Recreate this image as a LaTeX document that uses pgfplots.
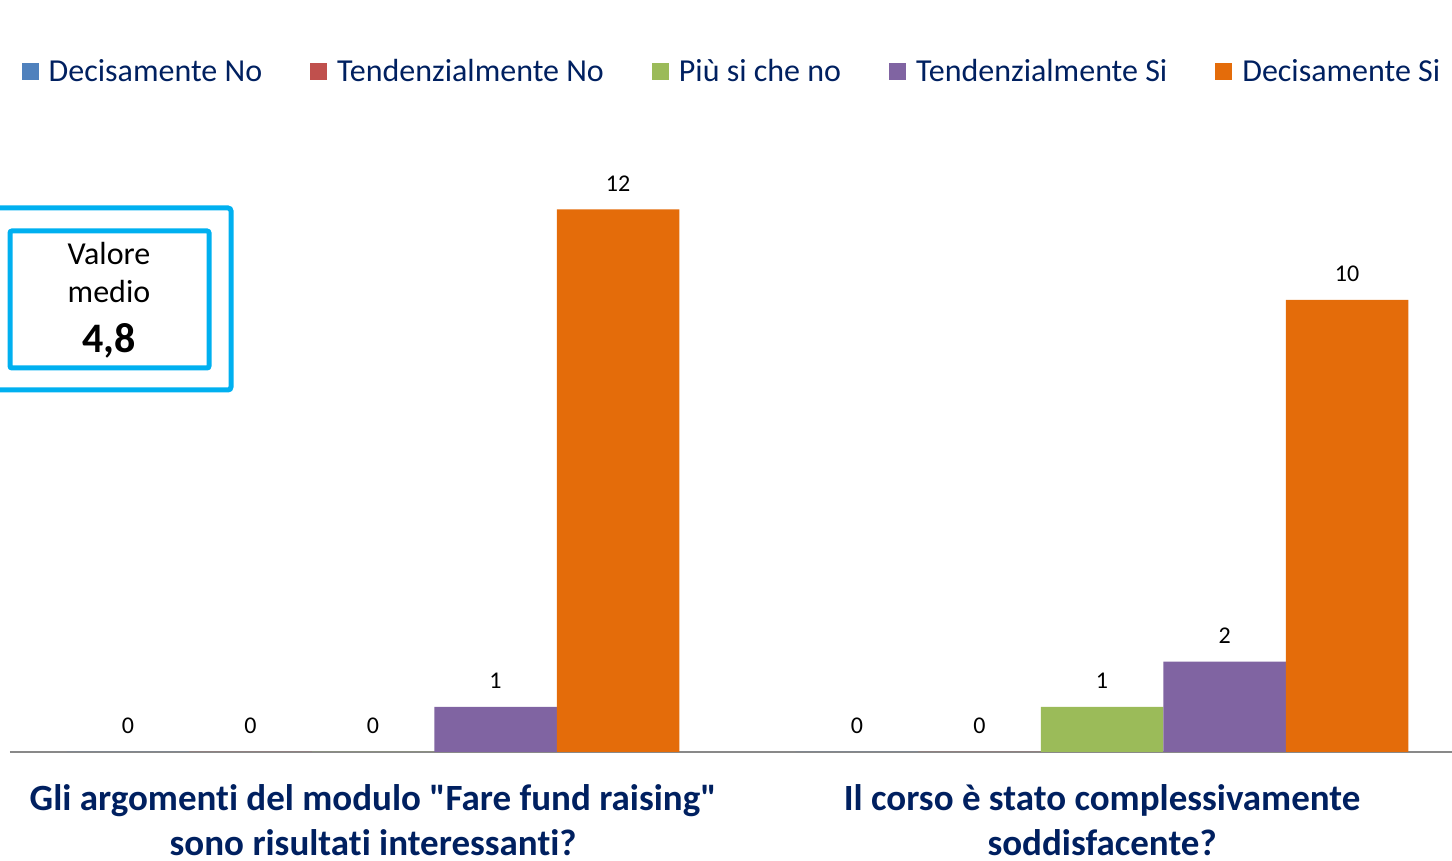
\documentclass[border=0pt]{standalone}
\usepackage{fontspec}
\setmainfont{Carlito}[Ligatures={NoCommon,TeXOff}]
\usepackage{pgfplots}
\pgfplotsset{compat=1.18}
\definecolor{cBlue}{HTML}{4F81BD}
\definecolor{cRed}{HTML}{C0504D}
\definecolor{cGreen}{HTML}{9BBB59}
\definecolor{cPurple}{HTML}{8064A2}
\definecolor{cOrange}{HTML}{E46C0A}
\definecolor{navy}{HTML}{002060}
\definecolor{axisgray}{HTML}{898989}
\definecolor{cyanbox}{HTML}{00B0F0}
\pgfplotsset{sq/.style={draw=none,
  legend image code/.code={\fill[##1] (0pt,-4.25pt) rectangle (8.5pt,4.25pt);}}}

\begin{document}
\begin{tikzpicture}
\useasboundingbox (0pt,0pt) rectangle (726pt,430.5pt);
\begin{axis}[
  at={(5pt,54.5pt)}, anchor=south west,
  scale only axis, width=721pt, height=326pt,
  ybar=0pt, bar width=61.25pt,
  xmin=-0.498, xmax=1.480, ymin=0, ymax=14.42,
  axis x line=bottom, axis y line=none,
  x axis line style={draw=axisgray, line width=1pt, -},
  xtick={0,1}, ytick=\empty, major tick length=0pt,
  xticklabels={{Gli argomenti del modulo "Fare fund raising"\\sono risultati interessanti?},
               {Il corso è stato complessivamente\\soddisfacente?}},
  xticklabel style={font=\bfseries\fontsize{18.5}{22.5}\selectfont, text=navy,
    align=center, anchor=north, inner sep=0pt, yshift=-16pt},
  /pgf/number format/assume math mode=true,
  nodes near coords,
  nodes near coords style={font=\fontsize{12}{14}\selectfont, text=black,
    inner sep=0pt, yshift=9pt},
  legend columns=5,
  legend style={at={(0.5,1)}, anchor=center, xshift=1pt, yshift=14pt,
    draw=none, fill=none, font=\fontsize{16}{19}\selectfont, text=navy,
    /tikz/every odd column/.append style={column sep=3pt},
    /tikz/every even column/.append style={column sep=22pt}},
  legend cell align=left,
]
\addplot[sq, fill=cBlue] coordinates {(0,0) (1,0)};
\addplot[sq, fill=cRed] coordinates {(0,0) (1,0)};
\addplot[sq, fill=cGreen] coordinates {(0,0) (1,1)};
\addplot[sq, fill=cPurple] coordinates {(0,1) (1,2)};
\addplot[sq, fill=cOrange] coordinates {(0,12) (1,10)};
\legend{Decisamente No, Tendenzialmente No, Più si che no, Tendenzialmente Si, Decisamente Si}
\end{axis}
% Valore medio box
\draw[cyanbox, line width=2.5pt, rounded corners=1.5pt] (-5pt,235.5pt) rectangle (115.5pt,326.5pt);
\draw[cyanbox, line width=2.5pt, rounded corners=1pt] (5pt,246.5pt) rectangle (104.5pt,315pt);
\node[anchor=base, inner sep=0pt, font=\fontsize{16}{19}\selectfont] at (54.5pt,298pt) {Valore};
\node[anchor=base, inner sep=0pt, font=\fontsize{16}{19}\selectfont] at (54.5pt,279pt) {medio};
\node[anchor=base, inner sep=0pt, font=\bfseries\fontsize{21}{25}\selectfont] at (54.5pt,254pt) {4,8};
\end{tikzpicture}
\end{document}
